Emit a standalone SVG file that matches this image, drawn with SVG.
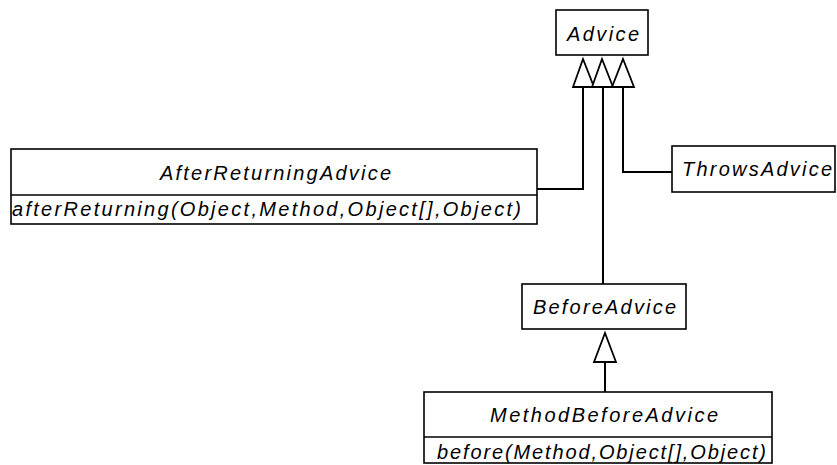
<svg xmlns="http://www.w3.org/2000/svg" width="837" height="465" viewBox="0 0 837 465">
<style>
.box{fill:#fff;stroke:#000;stroke-width:1.6}
.div{stroke:#000;stroke-width:1.6}
.t{font-family:"Liberation Sans",Arial,sans-serif;font-style:italic;font-size:20px;fill:#000}
.c{fill:none;stroke:#000;stroke-width:2}
.tri{fill:#fff;stroke:#000;stroke-width:1.8;stroke-linejoin:miter}
</style>
<rect width="837" height="465" fill="#fff"/>
<g id="connectors">
<path class="c" d="M583,87 V189 H537"/>
<path class="c" d="M603,87 V284"/>
<path class="c" d="M623,87 V172 H672"/>
<path class="c" d="M605,362 V392"/>
<polygon class="tri" points="583,59 594,87 573,87"/>
<polygon class="tri" points="602,59 613,87 592,87"/>
<polygon class="tri" points="623,59 634,87 612,87"/>
<polygon class="tri" points="605,333 616,362 594,362"/>
</g>
<g id="Advice">
<rect class="box" x="556" y="10" width="92" height="45"/>
<text class="t" x="567" y="41" textLength="72" lengthAdjust="spacing">Advice</text>
</g>
<g id="AfterReturningAdvice">
<rect class="box" x="11" y="149" width="526" height="75"/>
<line class="div" x1="11" y1="195" x2="537" y2="195"/>
<text class="t" x="160" y="180" textLength="231" lengthAdjust="spacing">AfterReturningAdvice</text>
<text class="t" x="12" y="216" textLength="509" lengthAdjust="spacing">afterReturning(Object,Method,Object[],Object)</text>
</g>
<g id="ThrowsAdvice">
<rect class="box" x="672" y="146" width="163" height="46"/>
<text class="t" x="682" y="176" textLength="150" lengthAdjust="spacing">ThrowsAdvice</text>
</g>
<g id="BeforeAdvice">
<rect class="box" x="522" y="284" width="164" height="45"/>
<text class="t" x="533" y="314" textLength="143" lengthAdjust="spacing">BeforeAdvice</text>
</g>
<g id="MethodBeforeAdvice">
<rect class="box" x="424" y="392" width="348" height="71"/>
<line class="div" x1="424" y1="437" x2="772" y2="437"/>
<text class="t" x="490" y="422" textLength="228" lengthAdjust="spacing">MethodBeforeAdvice</text>
<text class="t" x="437" y="459" textLength="329" lengthAdjust="spacing">before(Method,Object[],Object)</text>
</g>
</svg>
